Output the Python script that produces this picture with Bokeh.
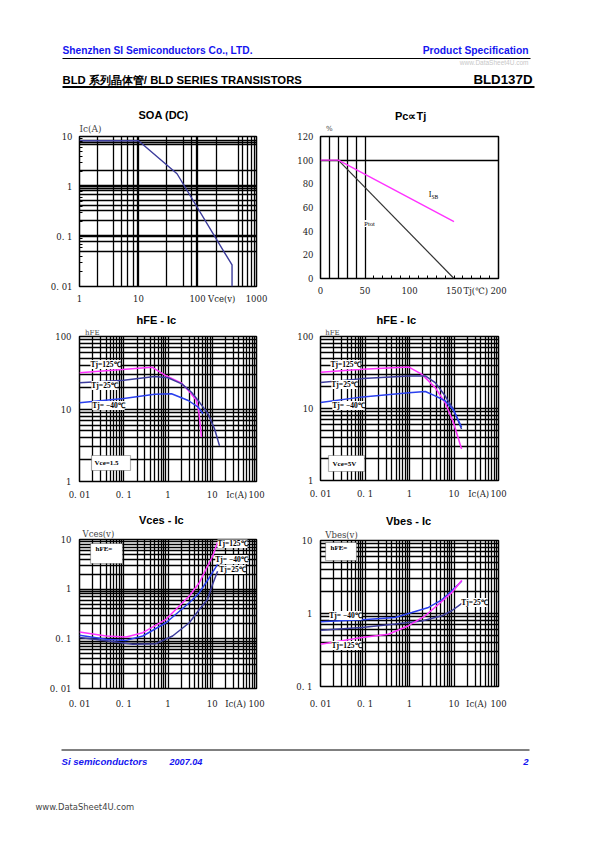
from bokeh.plotting import figure
from bokeh.models import Label, FixedTicker, Range1d, BoxAnnotation, LinearAxis, Title
from bokeh.layouts import column, row
from bokeh.embed import file_html
from bokeh.resources import INLINE
import math

# ---------------- data ----------------
soa_vce = [1, 10, 45, 280, 385, 385]
soa_ic = [8.2, 8.2, 1.8, 0.05, 0.027, 0.01]
soa_grid_x = [2, 3.8, 5.2, 6.4, 8.3, 9.6, 10, 30, 57, 78, 95, 100, 206, 500, 580, 705, 835, 910]
soa_grid_y = [8.4, 7.6, 6.8, 2.1, 1.05, 1, 0.91, 0.82, 0.68, 0.53, 0.42, 0.33, 0.21, 0.105, 0.1, 0.079, 0.05]

pc_tj_isb = [0, 20, 150]
pc_isb = [100, 100, 48]
pc_tj_ptot = [20, 150]
pc_ptot = [100, 0]
pc_grid_x = [10, 20, 30, 40, 50]
pc_grid_y = [100]

h15_x125 = [0.01, 0.093, 0.435, 0.87, 2.04, 3.13, 4.4, 5.0, 5.7]
h15_y125 = [31.5, 35, 37.8, 29, 22.7, 17, 13.1, 9.0, 4.1]
h15_x25 = [0.01, 0.1, 0.5, 1.0, 2.04, 3.4, 4.8, 6.2, 8.0, 11.3, 14.6]
h15_y25 = [23, 25, 28, 27, 22.2, 17, 13.1, 10.6, 8.6, 5.3, 3.1]
h15_xm40 = [0.01, 0.1, 0.5, 1.2, 2.87, 4.8, 6.2]
h15_ym40 = [12.2, 14, 16, 16.2, 13.1, 10.6, 8.6]

h5_x125 = [0.01, 0.089, 0.97, 1.91, 3.78, 6.3, 9.7, 14.8]
h5_y125 = [32, 35, 37.6, 29.8, 19.5, 12.1, 6.4, 2.74]
h5_x25 = [0.01, 0.089, 0.97, 2.27, 3.78, 6.3, 9.7, 14.8]
h5_y25 = [22.9, 26, 28.3, 28.3, 22.9, 15, 9.8, 5.2]
h5_xm40 = [0.01, 0.089, 0.97, 2.27, 3.78, 6.3, 9.7, 14.8]
h5_ym40 = [12.1, 14.5, 16.6, 17.2, 15, 12.8, 9.5, 5.5]

vce_x125 = [0.01, 0.04, 0.113, 0.27, 0.9, 3.03, 5.1, 8.55, 10.2, 13.2]
vce_y125 = [0.137, 0.114, 0.109, 0.133, 0.247, 0.726, 1.35, 3.4, 4.6, 8.8]
vce_xm40 = [0.01, 0.04, 0.113, 0.27, 0.9, 3.03, 5.1, 8.55, 13.2]
vce_ym40 = [0.118, 0.098, 0.093, 0.114, 0.211, 0.533, 0.85, 1.7, 3.15]
vce_x25 = [0.01, 0.04, 0.16, 0.536, 1.27, 3.03, 5.1, 7.8, 10.2, 13.2]
vce_y25 = [0.106, 0.091, 0.078, 0.08, 0.114, 0.211, 0.39, 0.62, 1.25, 2.3]

vbe_xm40 = [0.01, 0.085, 0.476, 1.13, 2.67, 5.33, 8.9, 15]
vbe_ym40 = [0.77, 0.82, 0.88, 1.03, 1.21, 1.54, 2.04, 2.79]
vbe_x25 = [0.01, 0.085, 0.476, 1.89, 5.33, 8.9, 15]
vbe_y25 = [0.59, 0.644, 0.716, 0.79, 0.93, 1.09, 1.38]
vbe_x125 = [0.01, 0.085, 0.337, 0.95, 2.25, 4.5, 8.9, 15]
vbe_y125 = [0.38, 0.47, 0.52, 0.68, 0.93, 1.34, 1.93, 2.85]

decade_labels = {0.01: "0. 01", 0.1: "0. 1", 1: "1", 10: "10", 100: "100", 1000: "1000"}


def log_grid(lo, hi):
    out = []
    for e in range(lo, hi):
        for m in range(1, 10):
            out.append(m * 10.0 ** e)
    out.append(10.0 ** hi)
    return out


MAGENTA = "#ff33ff"
NAVY = "#3c3c9c"
BLUE = "#2a40ee"
HBLUE = "#1515f0"
TICK_FONT = "DejaVu Serif"
GRID_W = 1.3

# layout geometry (page pixels; the Bokeh page has no body margin)
LX, LW, RX, RW = 0, 288, 288, 299
HEAD = (0, 104)
ROWS = [(104, 204), (308, 199), (507, 213)]
FOOT = (720, 98)
F_SOA = (79, 136, 257, 286)
F_PC = (319, 136, 499, 278)
F_H1 = (78, 336, 257, 481)
F_H2 = (319, 336, 499, 480)
F_V1 = (78, 539, 256, 688)
F_V2 = (320, 540, 498, 686)


def page_to_x(fr, xr, px, log=True):
    t = (px - fr[0]) / (fr[2] - fr[0])
    if log:
        a, b = math.log10(xr.start), math.log10(xr.end)
        return 10 ** (a + t * (b - a))
    return xr.start + t * (xr.end - xr.start)


def chart(fr, fx, fw, ry, rh, xt, yt, xr, yr, xstand, ystand):
    p = figure(width=fw, height=rh, x_axis_type=xt, y_axis_type=yt,
               x_range=xr, y_range=yr, title=None, toolbar_location=None,
               output_backend="svg",
               min_border_left=fr[0] - fx, min_border_right=fx + fw - fr[2],
               min_border_top=fr[1] - ry, min_border_bottom=ry + rh - fr[3])
    p.outline_line_color = "black"
    p.outline_line_width = 1.5
    p.background_fill_color = "white"
    p.border_fill_color = "white"
    for ax in p.axis:
        ax.axis_line_color = None
        ax.major_tick_in = 0
        ax.major_tick_out = 0
        ax.minor_tick_in = 0
        ax.minor_tick_out = 0
        ax.major_label_text_font = TICK_FONT
        ax.major_label_text_font_size = "8.5px"
        ax.major_label_text_color = "#222"
    p.xaxis.major_label_standoff = xstand
    p.yaxis.major_label_standoff = ystand
    p.grid.grid_line_color = "black"
    p.grid.grid_line_width = GRID_W
    return p


def top_texts(p, fr, xr, log, label_px, label, label_size, label_stand, ttl, ttl_center, ttl_width):
    pos = page_to_x(fr, xr, label_px, log)
    ax = LinearAxis(ticker=FixedTicker(ticks=[pos]), major_label_overrides={pos: label},
                    axis_line_color=None, major_tick_in=0, major_tick_out=0,
                    minor_tick_in=0, minor_tick_out=0, major_label_text_font=TICK_FONT,
                    major_label_text_font_size=f"{label_size}px",
                    major_label_text_color="#444", major_label_standoff=label_stand)
    p.add_layout(ax, "above")
    p.add_layout(Title(text=ttl, align="left", offset=ttl_center - ttl_width / 2 - fr[0],
                       standoff=0, text_font="Liberation Sans", text_font_size="11px",
                       text_font_style="bold", text_color="black"), "above")


def x_ticks(p, fr, xr, log, majors, name_px, name):
    pos = page_to_x(fr, xr, name_px, log)
    over = {k: v for k, v in decade_labels.items() if k in majors} if log else {}
    over[pos] = name
    p.xaxis.ticker = FixedTicker(ticks=list(majors) + [pos])
    p.xaxis.major_label_overrides = over


def y_ticks(p, majors):
    p.yaxis.ticker = FixedTicker(ticks=majors)
    p.yaxis.major_label_overrides = {k: v for k, v in decade_labels.items() if k in majors}


def note(p, fr, px, py, text, size=8.0, font="Liberation Serif", style="normal",
         color="black", align="center", baseline="middle", bg=None):
    p.add_layout(Label(x=px - fr[0], y=fr[3] - py, x_units="screen", y_units="screen",
                       text=text, text_font=font, text_font_size=f"{size}px",
                       text_font_style=style, text_color=color, text_align=align,
                       text_baseline=baseline, background_fill_color=bg))


def box(p, fr, x0, y0, x1, y1):
    p.add_layout(BoxAnnotation(left=x0 - fr[0], right=x1 - fr[0], top=fr[3] - y0,
                               bottom=fr[3] - y1, left_units="screen", right_units="screen",
                               top_units="screen", bottom_units="screen",
                               fill_color="white", fill_alpha=1.0,
                               line_color="black", line_width=1.2))


# ---------------- SOA ----------------
(ry, rh) = ROWS[0]
xr = Range1d(1, 1000)
soa = chart(F_SOA, LX, LW, ry, rh, "log", "log", xr, Range1d(0.01, 10), 7, 7)
x_ticks(soa, F_SOA, xr, True, [1, 10, 100, 1000], 222, "Vce(v)")
soa.yaxis.ticker = FixedTicker(ticks=[0.01, 0.1, 1, 10], minor_ticks=log_grid(-2, 1))
soa.yaxis.major_label_overrides = {k: v for k, v in decade_labels.items() if k <= 10}
soa.yaxis.minor_tick_in = 3
soa.xgrid.ticker = FixedTicker(ticks=soa_grid_x)
soa.ygrid.ticker = FixedTicker(ticks=soa_grid_y)
soa.line(soa_vce, soa_ic, line_color=NAVY, line_width=1.4)
top_texts(soa, F_SOA, xr, True, 90, "Ic(A)", 9, 3, "SOA (DC)", 163, 50)

# ---------------- Pc ----------------
xr = Range1d(0, 200)
pc = chart(F_PC, RX, RW, ry, rh, "linear", "linear", xr, Range1d(0, 120), 7, 7)
x_ticks(pc, F_PC, xr, False, [0, 50, 100, 150, 200], 476, "Tj(\u2103)")
pc.xaxis.ticker.minor_ticks = list(range(10, 200, 10))
pc.xaxis.minor_tick_in = 3
pc.yaxis.ticker = FixedTicker(ticks=[0, 20, 40, 60, 80, 100, 120])
pc.xgrid.ticker = FixedTicker(ticks=pc_grid_x)
pc.ygrid.ticker = FixedTicker(ticks=pc_grid_y)
pc.line(pc_tj_ptot, pc_ptot, line_color="#333333", line_width=1.2)
pc.line(pc_tj_isb, pc_isb, line_color=MAGENTA, line_width=1.4)
top_texts(pc, F_PC, xr, False, 328, "%", 7, 4, "Pc\u221dTj", 409, 31)
note(pc, F_PC, 430, 194, "I", size=8, font="Liberation Serif", align="right")
note(pc, F_PC, 430, 196, "SB", size=5.5, font="Liberation Serif", align="left")
note(pc, F_PC, 368, 223, "Ptot", size=6.5, font="Liberation Serif", bg="white")

# ---------------- hFE (Vce=1.5) ----------------
(ry, rh) = ROWS[1]
xr = Range1d(0.01, 100)
h1 = chart(F_H1, LX, LW, ry, rh, "log", "log", xr, Range1d(1, 100), 8, 8)
x_ticks(h1, F_H1, xr, True, [0.01, 0.1, 1, 10, 100], 237, "Ic(A)")
y_ticks(h1, [1, 10, 100])
h1.xgrid.ticker = FixedTicker(ticks=log_grid(-2, 2))
h1.ygrid.ticker = FixedTicker(ticks=log_grid(0, 2))
h1.line(h15_x125, h15_y125, line_color=MAGENTA, line_width=1.5)
h1.line(h15_x25, h15_y25, line_color=NAVY, line_width=1.5)
h1.line(h15_xm40, h15_ym40, line_color=BLUE, line_width=1.5)
top_texts(h1, F_H1, xr, True, 91, "hFE", 7, 0, "hFE - Ic", 155, 40)
note(h1, F_H1, 104, 364, "Tj=125\u2103", size=7.5, style="bold", bg="white")
note(h1, F_H1, 103, 385, "Tj=25\u2103", size=7.5, style="bold", bg="white")
note(h1, F_H1, 107, 405, "Tj= \u221240\u2103", size=7.5, style="bold", bg="white")
box(h1, F_H1, 90, 455, 129, 470)
note(h1, F_H1, 93, 462, "Vce=1.5", size=7, style="bold", align="left")

# ---------------- hFE (Vce=5V) ----------------
h2 = chart(F_H2, RX, RW, ry, rh, "log", "log", xr, Range1d(1, 100), 8, 7)
x_ticks(h2, F_H2, xr, True, [0.01, 0.1, 1, 10, 100], 479, "Ic(A)")
y_ticks(h2, [1, 10, 100])
h2.xgrid.ticker = FixedTicker(ticks=log_grid(-2, 2))
h2.ygrid.ticker = FixedTicker(ticks=log_grid(0, 2))
h2.line(h5_x125, h5_y125, line_color=MAGENTA, line_width=1.5)
h2.line(h5_x25, h5_y25, line_color=NAVY, line_width=1.5)
h2.line(h5_xm40, h5_ym40, line_color=BLUE, line_width=1.5)
top_texts(h2, F_H2, xr, True, 331, "hFE", 7, 0, "hFE - Ic", 395, 40)
note(h2, F_H2, 344, 364, "Tj=125\u2103", size=7.5, style="bold", bg="white")
note(h2, F_H2, 343, 384, "Tj=25\u2103", size=7.5, style="bold", bg="white")
note(h2, F_H2, 347, 405, "Tj= \u221240\u2103", size=7.5, style="bold", bg="white")
box(h2, F_H2, 327, 455, 363, 471)
note(h2, F_H2, 331, 463, "Vce=5V", size=7, style="bold", align="left")

# ---------------- Vces ----------------
(ry, rh) = ROWS[2]
v1 = chart(F_V1, LX, LW, ry, rh, "log", "log", xr, Range1d(0.01, 10), 10, 8)
x_ticks(v1, F_V1, xr, True, [0.01, 0.1, 1, 10, 100], 235, "Ic(A)")
y_ticks(v1, [0.01, 0.1, 1, 10])
v1.xgrid.ticker = FixedTicker(ticks=log_grid(-2, 2))
v1.ygrid.ticker = FixedTicker(ticks=log_grid(-2, 1))
v1.line(vce_x125, vce_y125, line_color=MAGENTA, line_width=1.5)
v1.line(vce_xm40, vce_ym40, line_color=BLUE, line_width=1.5)
v1.line(vce_x25, vce_y25, line_color=NAVY, line_width=1.5)
top_texts(v1, F_V1, xr, True, 97, "Vces(v)", 8.5, 1, "Vces - Ic", 160, 45)
note(v1, F_V1, 231, 543, "Tj=125\u2103", size=7.5, style="bold", bg="white")
note(v1, F_V1, 230, 559, "Tj= \u221240\u2103", size=7.5, style="bold", bg="white")
note(v1, F_V1, 231, 569, "Tj=25\u2103", size=7.5, style="bold", bg="white")
box(v1, F_V1, 89, 543, 121, 563)
note(v1, F_V1, 94, 548, "hFE=", size=7, style="bold", align="left")

# ---------------- Vbes ----------------
v2 = chart(F_V2, RX, RW, ry, rh, "log", "log", xr, Range1d(0.1, 10), 12, 8)
x_ticks(v2, F_V2, xr, True, [0.01, 0.1, 1, 10, 100], 476, "Ic(A)")
y_ticks(v2, [0.1, 1, 10])
v2.xgrid.ticker = FixedTicker(ticks=log_grid(-2, 2))
v2.ygrid.ticker = FixedTicker(ticks=log_grid(-1, 1))
v2.line(vbe_xm40, vbe_ym40, line_color=BLUE, line_width=1.5)
v2.line(vbe_x25, vbe_y25, line_color=NAVY, line_width=1.5)
v2.line(vbe_x125, vbe_y125, line_color=MAGENTA, line_width=1.5)
top_texts(v2, F_V2, xr, True, 341, "Vbes(v)", 8.5, 1, "Vbes - Ic", 408, 45)
note(v2, F_V2, 345, 615, "Tj= \u221240\u2103", size=7.5, style="bold", bg="white")
note(v2, F_V2, 346, 645, "Tj=125\u2103", size=7.5, style="bold", bg="white")
note(v2, F_V2, 474, 602, "Tj=25\u2103", size=7.5, style="bold", bg="white")
box(v2, F_V2, 325, 542, 356, 560)
note(v2, F_V2, 330, 547, "hFE=", size=7, style="bold", align="left")


# ---------------- header / footer ----------------
def page_strip(top, height):
    p = figure(width=LW + RW, height=height, x_range=Range1d(LX, LX + LW + RW),
               y_range=Range1d(top + height, top), x_axis_type=None, y_axis_type=None,
               title=None, toolbar_location=None, output_backend="svg", min_border=0)
    p.outline_line_color = None
    p.grid.visible = False
    p.background_fill_color = "white"
    p.border_fill_color = "white"
    return p


def txt(p, x, y, text, size, style="bold", color="black", align="left", font="Liberation Sans"):
    p.add_layout(Label(x=x, y=y, text=text, text_font=font, text_font_size=f"{size}px",
                       text_font_style=style, text_color=color, text_align=align,
                       text_baseline="middle"))


HEADER_RULES = dict(x0=[62, 62], y0=[58, 86.5], x1=[530, 534], y1=[58, 86.5])
head = page_strip(*HEAD)
head.segment(**HEADER_RULES, line_color="black", line_width=[1.0, 2.0])
txt(head, 62, 50, "Shenzhen SI Semiconductors Co., LTD.", 10.2, color=HBLUE)
txt(head, 528, 50, "Product Specification", 10.3, color=HBLUE, align="right")
txt(head, 528, 61.5, "www.DataSheet4U.com", 6.5, style="normal", color="#c8c8c8", align="right")
txt(head, 62, 79, "BLD \u7cfb\u5217\u6676\u4f53\u7ba1/ BLD SERIES TRANSISTORS", 11.3)
txt(head, 532, 79, "BLD137D", 13.3, align="right")

FOOTER_RULE = dict(x0=[61], y0=[749.5], x1=[529], y1=[749.5])
foot = page_strip(*FOOT)
foot.segment(**FOOTER_RULE, line_color="black", line_width=1.0)
txt(foot, 61, 761, "Si semiconductors", 9.6, style="bold italic", color=HBLUE)
txt(foot, 169, 761, "2007.04", 9.1, style="bold italic", color=HBLUE)
txt(foot, 528, 761, "2", 9.6, style="bold italic", color=HBLUE, align="right")
txt(foot, 35, 806, "www.DataSheet4U.com", 8.4, style="normal", color="#444", font="DejaVu Sans")

# charts stacked per column so that frames in the two columns are not forced to align
page = column(head, row(column(soa, h1, v1, spacing=0), column(pc, h2, v2, spacing=0), spacing=0),
              foot, spacing=0)

open("out.html", "w").write(file_html(page, INLINE))
